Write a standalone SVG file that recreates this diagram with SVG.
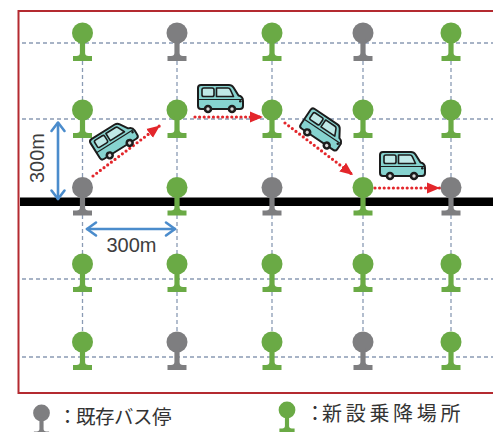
<svg xmlns="http://www.w3.org/2000/svg" xmlns:xlink="http://www.w3.org/1999/xlink" width="493" height="432" viewBox="0 0 493 432">
  <style>
    .grid{stroke:#8a9bb4;stroke-width:1.3;stroke-dasharray:4 3;fill:none}
    .green{fill:#6aaa45}
    .gray{fill:#7e7e80}
    .route{stroke:#e3262b;stroke-width:3.2;stroke-linecap:round;stroke-dasharray:0 4.6;fill:none}
    .dim{stroke:#4b8ccc;stroke-width:2.6;fill:none;stroke-linecap:round;stroke-linejoin:round}
    .dimtxt{font-family:"Liberation Sans",Arial,sans-serif;font-size:20px;fill:#3d3d3d}
    .legend{font-family:"Noto Sans CJK JP","Noto Sans",sans-serif;fill:#333}
    .body{fill:#86d3cf;stroke:#1c1c1c;stroke-width:2;stroke-linejoin:round}
    .win{fill:#bfe9e7;stroke:#1c1c1c;stroke-width:1.6;stroke-linejoin:round}
  </style>
  <defs>
    <!-- stop pin: round head, stem, base plate; origin at head centre -->
    <g id="pin">
      <circle cx="0" cy="0" r="10.5"/>
      <path d="M-2.6,6 V20 Q-2.6,23 -6,23 H-9.5 V28 H9.5 V23 H6 Q2.6,23 2.6,20 V6 Z"/>
    </g>
    <!-- small van, facing right, origin at centre -->
    <g id="van">
      <path class="body" d="M-19,-13 L9,-13 Q12,-13 13.5,-10.5 L18.5,-2.5 Q23,-1.5 23,3 L23,8 Q23,11 20,11 L-19,11 Q-22,11 -22,8 L-22,-10 Q-22,-13 -19,-13 Z"/>
      <rect class="win" x="-18" y="-10" width="12" height="8.5" rx="1.8"/>
      <path class="win" d="M-3.5,-10 H8 Q9.5,-10 10.2,-8.6 L13.5,-1.5 H-3.5 Z"/>
      <line x1="-22" y1="1.5" x2="22" y2="1.5" stroke="#1c1c1c" stroke-width="1.2"/>
      <circle cx="20.3" cy="3.2" r="1.3" fill="#1c1c1c"/>
      <circle cx="-12" cy="11" r="4.3" fill="#1c1c1c"/>
      <circle cx="-12" cy="11" r="1.7" fill="#d8d8d8"/>
      <circle cx="12" cy="11" r="4.3" fill="#1c1c1c"/>
      <circle cx="12" cy="11" r="1.7" fill="#d8d8d8"/>
    </g>
    <marker id="redHead" markerUnits="userSpaceOnUse" markerWidth="14" markerHeight="12" refX="13" refY="6" orient="auto">
      <path d="M0,0.5 L13,6 L0,11.5 Z" fill="#e3262b"/>
    </marker>
  </defs>

  <rect width="493" height="432" fill="#fff"/>

  <!-- area frame -->
  <path d="M500,11 H18.5 V393 H500" fill="none" stroke="#b42a30" stroke-width="2"/>

  <!-- street grid -->
  <g id="grid">
    <line class="grid" x1="22" y1="43" x2="493" y2="43"/>
    <line class="grid" x1="22" y1="119" x2="493" y2="119"/>
    <line class="grid" x1="22" y1="279" x2="493" y2="279"/>
    <line class="grid" x1="22" y1="357" x2="493" y2="357"/>
    <line class="grid" x1="82.5" y1="33" x2="82.5" y2="342"/>
    <line class="grid" x1="177" y1="33" x2="177" y2="342"/>
    <line class="grid" x1="272" y1="33" x2="272" y2="342"/>
    <line class="grid" x1="363" y1="33" x2="363" y2="342"/>
    <line class="grid" x1="451" y1="33" x2="451" y2="342"/>
  </g>

  <!-- main road -->
  <rect id="road" x="20" y="197.5" width="473" height="8.5" fill="#000"/>

  <!-- distance markers -->
  <g id="dimensions">
    <line class="dim" x1="58" y1="123" x2="58" y2="199"/>
    <polyline class="dim" points="51.5,131 58,122.5 64.5,131"/>
    <polyline class="dim" points="51.5,190.5 58,199 64.5,190.5"/>
    <text class="dimtxt" text-anchor="middle" transform="translate(43.5,158) rotate(-90)">300m</text>
    <line class="dim" x1="87" y1="229" x2="175" y2="229"/>
    <polyline class="dim" points="96,222.5 87,229 96,235.5"/>
    <polyline class="dim" points="166,222.5 175,229 166,235.5"/>
    <text class="dimtxt" x="131.5" y="251.5" text-anchor="middle">300m</text>
  </g>

  <!-- vehicle route -->
  <g id="connectors">
    <line class="route" x1="93" y1="176" x2="160" y2="125.5" marker-end="url(#redHead)"/>
    <line class="route" x1="195" y1="117" x2="263" y2="117" marker-end="url(#redHead)"/>
    <line class="route" x1="285" y1="123" x2="353" y2="175" marker-end="url(#redHead)"/>
    <line class="route" x1="375" y1="188" x2="440" y2="188" marker-end="url(#redHead)"/>
  </g>

  <!-- stops: row 1 -->
  <g id="stop-r1c1"><use xlink:href="#pin" href="#pin" class="green" x="82.5" y="33"/></g>
  <g id="stop-r1c2"><use xlink:href="#pin" href="#pin" class="gray" x="177" y="33"/></g>
  <g id="stop-r1c3"><use xlink:href="#pin" href="#pin" class="green" x="272" y="33"/></g>
  <g id="stop-r1c4"><use xlink:href="#pin" href="#pin" class="gray" x="363" y="33"/></g>
  <g id="stop-r1c5"><use xlink:href="#pin" href="#pin" class="green" x="451" y="33"/></g>
  <!-- row 2 -->
  <g id="stop-r2c1"><use xlink:href="#pin" href="#pin" class="green" x="82.5" y="110"/></g>
  <g id="stop-r2c2"><use xlink:href="#pin" href="#pin" class="green" x="177" y="110"/></g>
  <g id="stop-r2c3"><use xlink:href="#pin" href="#pin" class="green" x="272" y="110"/></g>
  <g id="stop-r2c4"><use xlink:href="#pin" href="#pin" class="green" x="363" y="110"/></g>
  <g id="stop-r2c5"><use xlink:href="#pin" href="#pin" class="green" x="451" y="110"/></g>
  <!-- row 3 (on the main road) -->
  <g id="stop-r3c1"><use xlink:href="#pin" href="#pin" class="gray" x="82.5" y="187.5"/></g>
  <g id="stop-r3c2"><use xlink:href="#pin" href="#pin" class="green" x="177" y="187.5"/></g>
  <g id="stop-r3c3"><use xlink:href="#pin" href="#pin" class="gray" x="272" y="187.5"/></g>
  <g id="stop-r3c4"><use xlink:href="#pin" href="#pin" class="green" x="363" y="187.5"/></g>
  <g id="stop-r3c5"><use xlink:href="#pin" href="#pin" class="gray" x="451" y="187.5"/></g>
  <!-- row 4 -->
  <g id="stop-r4c1"><use xlink:href="#pin" href="#pin" class="green" x="82.5" y="264"/></g>
  <g id="stop-r4c2"><use xlink:href="#pin" href="#pin" class="green" x="177" y="264"/></g>
  <g id="stop-r4c3"><use xlink:href="#pin" href="#pin" class="green" x="272" y="264"/></g>
  <g id="stop-r4c4"><use xlink:href="#pin" href="#pin" class="green" x="363" y="264"/></g>
  <g id="stop-r4c5"><use xlink:href="#pin" href="#pin" class="green" x="451" y="264"/></g>
  <!-- row 5 -->
  <g id="stop-r5c1"><use xlink:href="#pin" href="#pin" class="green" x="82.5" y="342"/></g>
  <g id="stop-r5c2"><use xlink:href="#pin" href="#pin" class="gray" x="177" y="342"/></g>
  <g id="stop-r5c3"><use xlink:href="#pin" href="#pin" class="green" x="272" y="342"/></g>
  <g id="stop-r5c4"><use xlink:href="#pin" href="#pin" class="gray" x="363" y="342"/></g>
  <g id="stop-r5c5"><use xlink:href="#pin" href="#pin" class="green" x="451" y="342"/></g>

  <!-- vans along the route -->
  <g id="vans">
    <use xlink:href="#van" href="#van" transform="translate(114,140) rotate(-32) scale(0.98)"/>
    <use xlink:href="#van" href="#van" transform="translate(220,98)"/>
    <use xlink:href="#van" href="#van" transform="translate(323,130) rotate(34) scale(0.98)"/>
    <use xlink:href="#van" href="#van" transform="translate(402,165)"/>
  </g>

  <!-- legend -->
  <g id="legend-existing">
    <use xlink:href="#pin" href="#pin" class="gray" transform="translate(41.5,413) scale(0.8)"/>
    <text class="legend" font-size="19.5" y="423.5" x="57.8 76 95 114 133 152">：既存バス停</text>
  </g>
  <g id="legend-new">
    <use xlink:href="#pin" href="#pin" class="green" transform="translate(287,410) scale(0.8)"/>
    <text class="legend" font-size="20" y="420.5" x="305 322 345.7 369.4 393.1 416.8 440.5">：新設乗降場所</text>
  </g>
</svg>
